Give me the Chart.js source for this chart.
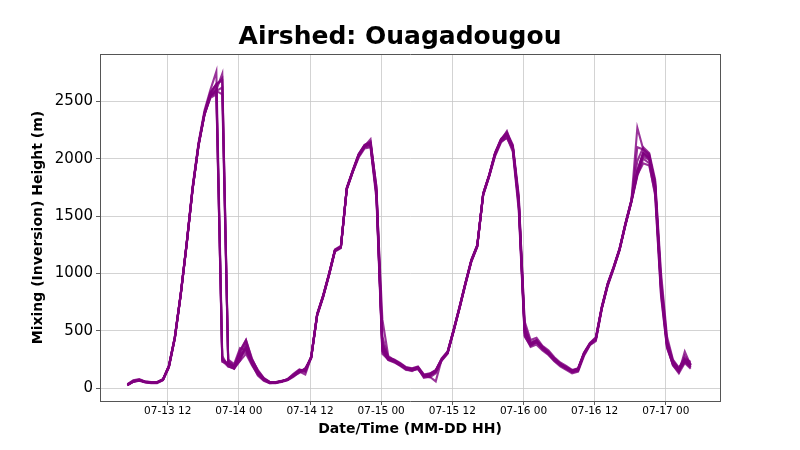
<!DOCTYPE html>
<html>
<head>
<meta charset="utf-8">
<script src="https://cdn.jsdelivr.net/npm/chart.js@4"></script>
<style>
  body { margin: 0; background: #fff; }
  canvas { display: block; }
</style>
</head>
<body>
<canvas id="airshed" width="800" height="450"></canvas>
<script>
// hora inicial da serie (horas desde 07-13 00), passo de 1 h
var horaInicial = 5.2
var tickHoras = [12, 24, 36, 48, 60, 72, 84, 96]
var tickLabels = ['07-13 12', '07-14 00', '07-14 12', '07-15 00', '07-15 12', '07-16 00', '07-16 12', '07-17 00']
var tickAltura = [0, 500, 1000, 1500, 2000, 2500]

// membros do ensemble - altura de mistura (m)
var m01 = [25, 55, 65, 50, 45, 45, 70, 180, 430, 810, 1250, 1730,
  2110, 2380, 2540, 2580, 260, 200, 170, 240, 300, 200, 120, 70,
  45, 45, 55, 70, 100, 140, 170, 260, 630, 790, 980, 1190,
  1220, 1730, 1880, 2010, 2090, 2100, 1650, 300, 250, 230, 200, 170,
  160, 170, 100, 110, 140, 240, 300, 490, 690, 900, 1100, 1230,
  1680, 1840, 2020, 2140, 2190, 2060, 1550, 450, 370, 400, 340, 300,
  240, 200, 170, 140, 160, 290, 380, 420, 690, 890, 1040, 1200,
  1420, 1620, 1850, 2000, 1960, 1680, 800, 350, 210, 150, 230, 180]
var m02 = [30, 65, 75, 55, 50, 50, 75, 195, 445, 825, 1265, 1745,
  2125, 2400, 2570, 2640, 2700, 220, 190, 330, 420, 260, 150, 85,
  55, 50, 60, 80, 120, 160, 150, 280, 650, 810, 1000, 1210,
  1240, 1750, 1900, 2040, 2120, 2150, 1750, 400, 270, 245, 215, 180,
  170, 185, 115, 125, 160, 255, 320, 510, 710, 920, 1120, 1250,
  1700, 1860, 2050, 2170, 2230, 2120, 1680, 550, 400, 420, 360, 320,
  260, 215, 185, 155, 170, 310, 390, 440, 710, 915, 1060, 1220,
  1440, 1640, 1880, 2060, 2020, 1800, 950, 420, 240, 170, 250, 210]
var m03 = [35, 70, 80, 60, 55, 55, 80, 200, 450, 830, 1270, 1760,
  2140, 2420, 2600, 2760, 280, 190, 170, 300, 400, 240, 130, 75,
  50, 55, 65, 75, 110, 145, 120, 270, 640, 800, 990, 1200,
  1230, 1740, 1890, 2030, 2110, 2170, 1720, 380, 255, 235, 205, 165,
  150, 175, 90, 100, 60, 250, 310, 500, 700, 910, 1110, 1240,
  1690, 1850, 2040, 2160, 2240, 2090, 1600, 480, 380, 400, 350, 300,
  250, 205, 175, 140, 150, 300, 385, 430, 700, 905, 1050, 1210,
  1430, 1640, 2270, 2080, 2040, 1770, 900, 380, 200, 140, 320, 200]
var m04 = [30, 60, 70, 55, 50, 50, 75, 190, 440, 820, 1260, 1740,
  2120, 2390, 2550, 2600, 2740, 240, 200, 260, 350, 220, 135, 80,
  50, 50, 60, 75, 110, 150, 165, 270, 640, 800, 990, 1200,
  1230, 1740, 1890, 2030, 2110, 2120, 1700, 350, 260, 240, 210, 175,
  165, 180, 110, 120, 150, 250, 310, 500, 700, 910, 1110, 1240,
  1690, 1850, 2040, 2160, 2210, 2100, 1620, 500, 385, 410, 355, 310,
  255, 210, 180, 150, 165, 300, 385, 430, 700, 905, 1050, 1210,
  1430, 1630, 1870, 2040, 2000, 1750, 880, 385, 225, 165, 240, 195]
var m05 = [28, 58, 68, 52, 48, 48, 72, 185, 435, 815, 1255, 1735,
  2115, 2385, 2530, 2560, 230, 210, 190, 280, 320, 210, 110, 65,
  45, 48, 58, 72, 105, 135, 175, 265, 635, 795, 985, 1195,
  1225, 1735, 1885, 2020, 2100, 2110, 1680, 320, 245, 225, 195, 160,
  155, 165, 105, 95, 130, 245, 305, 495, 695, 905, 1105, 1235,
  1685, 1845, 2030, 2150, 2180, 2080, 1580, 460, 360, 380, 330, 290,
  235, 190, 160, 130, 145, 280, 375, 410, 690, 895, 1045, 1205,
  1425, 1625, 1860, 1960, 1940, 1700, 820, 360, 200, 130, 220, 170]
var m06 = [32, 62, 72, 58, 52, 52, 78, 195, 445, 825, 1265, 1745,
  2130, 2400, 2580, 2650, 2680, 250, 210, 350, 330, 250, 160, 90,
  55, 52, 62, 78, 125, 165, 150, 275, 645, 805, 995, 1205,
  1235, 1745, 1895, 2040, 2120, 2140, 1760, 450, 265, 250, 220, 185,
  175, 190, 120, 130, 155, 260, 320, 505, 705, 915, 1115, 1245,
  1695, 1855, 2050, 2170, 2220, 2110, 1660, 580, 420, 440, 370, 330,
  270, 225, 195, 160, 175, 310, 395, 445, 710, 910, 1055, 1215,
  1440, 1640, 1980, 2100, 2050, 1820, 1000, 450, 250, 180, 260, 230]
var m07 = [30, 60, 70, 55, 50, 50, 75, 190, 440, 820, 1260, 1740,
  2120, 2390, 2560, 2610, 250, 215, 185, 320, 420, 250, 150, 85,
  50, 50, 60, 75, 110, 150, 160, 270, 640, 800, 990, 1200,
  1230, 1740, 1890, 2030, 2110, 2130, 1700, 350, 260, 240, 210, 175,
  165, 180, 110, 120, 150, 250, 310, 500, 700, 910, 1110, 1240,
  1690, 1850, 2040, 2160, 2210, 2100, 1620, 500, 385, 410, 355, 310,
  255, 210, 180, 150, 165, 300, 385, 430, 700, 905, 1050, 1210,
  1430, 1630, 2100, 2080, 2030, 1780, 900, 400, 230, 160, 280, 210]
var m08 = [28, 58, 70, 55, 50, 50, 74, 188, 438, 818, 1258, 1738,
  2118, 2388, 2550, 2590, 2620, 230, 180, 240, 380, 230, 145, 80,
  52, 50, 60, 76, 112, 152, 158, 268, 642, 802, 992, 1202,
  1232, 1742, 1892, 2032, 2112, 2130, 1710, 600, 280, 245, 212, 178,
  168, 182, 112, 122, 152, 252, 312, 502, 702, 912, 1112, 1242,
  1692, 1852, 2042, 2162, 2212, 2102, 1640, 520, 390, 420, 360, 310,
  258, 212, 182, 152, 168, 302, 388, 432, 702, 908, 1052, 1212,
  1432, 1632, 1900, 2050, 2010, 1760, 860, 370, 220, 170, 250, 200]
var m09 = [33, 64, 74, 57, 51, 51, 77, 192, 442, 822, 1262, 1742,
  2125, 2395, 2570, 2650, 240, 190, 175, 270, 360, 215, 125, 72,
  48, 49, 59, 74, 108, 148, 140, 268, 638, 798, 988, 1198,
  1228, 1738, 1888, 2025, 2105, 2125, 1690, 330, 250, 232, 202, 168,
  160, 178, 105, 112, 145, 248, 308, 498, 698, 908, 1108, 1238,
  1688, 1848, 2038, 2158, 2205, 2095, 1610, 490, 375, 400, 345, 300,
  248, 205, 172, 145, 160, 298, 382, 428, 698, 902, 1048, 1208,
  1428, 1628, 1880, 2020, 1990, 1740, 870, 380, 215, 150, 235, 185]
var m10 = [29, 59, 69, 54, 49, 49, 74, 188, 438, 818, 1258, 1738,
  2118, 2385, 2545, 2590, 2560, 215, 195, 300, 340, 240, 140, 78,
  52, 51, 61, 77, 115, 155, 162, 272, 642, 802, 992, 1202,
  1232, 1742, 1892, 2035, 2115, 2135, 1720, 370, 262, 242, 212, 176,
  166, 182, 112, 118, 152, 252, 312, 502, 702, 912, 1112, 1242,
  1692, 1852, 2045, 2165, 2215, 2105, 1630, 510, 390, 415, 358, 312,
  256, 212, 182, 152, 166, 302, 386, 432, 702, 906, 1052, 1212,
  1432, 1632, 1890, 2045, 2005, 1760, 890, 390, 228, 168, 245, 198]

var membros = [m01, m02, m03, m04, m05, m06, m07, m08, m09, m10]

var fonte = 'DejaVu Sans'
var corBorda = '#555'

var datasets = membros.map(function (serie) {
    return {
        data: serie.map(function (v, i) { return { x: horaInicial + i, y: v } }),
        borderColor: 'rgba(128, 0, 128, 0.8)',
        borderWidth: 2.1,
        pointRadius: 0,
        fill: false,
        tension: 0
    }
})

// eixos auxiliares so para desenhar a moldura superior e direita
var eixoMoldura = {
    display: true,
    ticks: { display: false },
    grid: { drawOnChartArea: false, drawTicks: false },
    border: { color: corBorda, width: 1 }
}

const ctx = document.getElementById('airshed');

new Chart(ctx, {
    type: 'line',
    data: { datasets: datasets },
    options: {
        responsive: false,
        animation: false,
        layout: { padding: { left: 0, right: 0, top: 14, bottom: 0 } },
        plugins: {
            legend: { display: false },
            tooltip: { enabled: false },
            title: {
                display: true,
                text: 'Airshed: Ouagadougou',
                color: '#000',
                font: { family: fonte, size: 25, weight: 'bold' },
                padding: { top: 8, bottom: 2 }
            }
        },
        scales: {
            x: {
                type: 'linear',
                min: 0.58,
                max: 105.14,
                afterBuildTicks: function (scale) {
                    scale.ticks = tickHoras.map(function (h) { return { value: h } })
                },
                afterFit: function (scale) { scale.height = 49 },
                ticks: {
                    autoSkip: false,
                    maxRotation: 0,
                    padding: 0,
                    color: '#000',
                    font: { family: fonte, size: 10.5 },
                    callback: function (value) {
                        var idx = tickHoras.indexOf(value)
                        return idx >= 0 ? tickLabels[idx] : ''
                    }
                },
                grid: { color: '#c8c8c8', lineWidth: 0.8, tickLength: 4, tickColor: '#333' },
                border: { color: corBorda, width: 1 },
                title: {
                    display: true,
                    text: 'Date/Time (MM-DD HH)',
                    color: '#000',
                    font: { family: fonte, size: 14, weight: 'bold' },
                    padding: { top: 4, bottom: 12.6 }
                }
            },
            xTopo: Object.assign({ type: 'linear', position: 'top', min: 0, max: 1,
                afterFit: function (scale) { scale.height = 0 } }, eixoMoldura),
            y: {
                min: -111,
                max: 2912,
                afterBuildTicks: function (scale) {
                    scale.ticks = tickAltura.map(function (v) { return { value: v } })
                },
                afterFit: function (scale) { scale.width = 100 },
                ticks: {
                    padding: 3,
                    color: '#000',
                    font: { family: fonte, size: 15 },
                    callback: function (value) { return String(value) }
                },
                grid: { color: '#c8c8c8', lineWidth: 0.8, tickLength: 4, tickColor: '#333' },
                border: { color: corBorda, width: 1 },
                title: {
                    display: true,
                    text: 'Mixing (Inversion) Height (m)',
                    color: '#000',
                    font: { family: fonte, size: 14, weight: 'bold' },
                    padding: { top: 29.6, bottom: 4 }
                }
            },
            yDireita: Object.assign({ type: 'linear', position: 'right', min: 0, max: 1,
                afterFit: function (scale) { scale.width = 80 } }, eixoMoldura)
        }
    }
});
</script>
</body>
</html>
